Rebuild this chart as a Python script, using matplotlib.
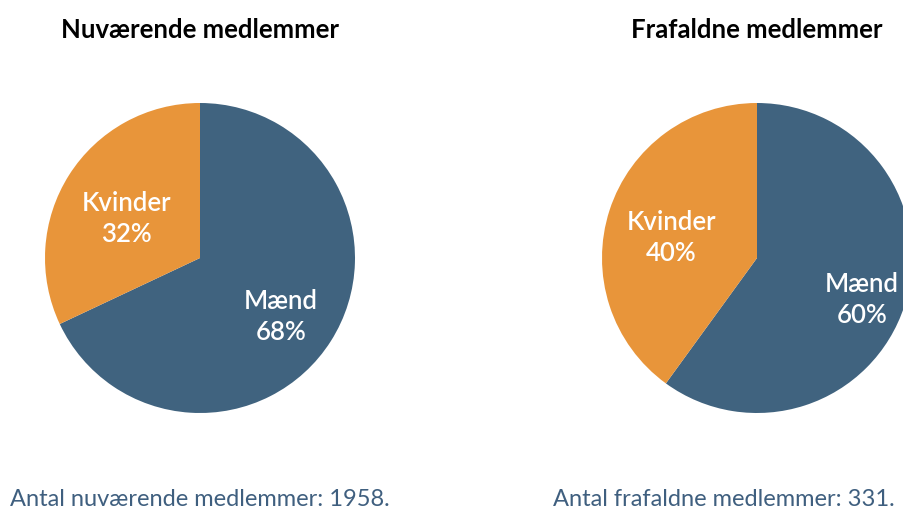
import numpy as np
import matplotlib
matplotlib.use('Agg')
import matplotlib.pyplot as plt

plt.rcParams['font.family'] = ['Lato', 'DejaVu Sans']

# data
categories = ['Mænd', 'Kvinder']
current_share = [68, 32]
dropped_share = [60, 40]
titles = ['Nuværende medlemmer', 'Frafaldne medlemmer']
captions = ['Antal nuværende medlemmer: 1958.', 'Antal frafaldne medlemmer: 331.']

colors = ['#40637f', '#e8953a']
caption_color = '#3f5f7f'

W, H = 904, 512
fig = plt.figure(figsize=(W / 100, H / 100), dpi=100)

# pie centres in pixels, radius 155
centres = [(200, 258), (757, 258)]
radius = 155
label_r = [[0.62, 0.56], [0.71, 0.58]]
label_dy = -0.05  # small downward nudge for the labels

for i, (shares, (cx, cy)) in enumerate(zip([current_share, dropped_share], centres)):
    ax = fig.add_axes([(cx - radius) / W, (H - cy - radius) / H,
                       2 * radius / W, 2 * radius / H])
    wedges, _ = ax.pie(shares, colors=colors, startangle=90, counterclock=False,
                       radius=1, wedgeprops=dict(linewidth=0))
    ax.set_xlim(-1, 1)
    ax.set_ylim(-1, 1)
    ax.set_aspect('equal')
    ax.axis('off')

    for j, w in enumerate(wedges):
        ang = np.deg2rad((w.theta1 + w.theta2) / 2)
        r = label_r[i][j]
        ax.text(r * np.cos(ang), r * np.sin(ang) + label_dy,
                f'{categories[j]}\n{shares[j]}%',
                ha='center', va='center', color='white', fontsize=18.5,
                fontweight='semibold', linespacing=1.3)

    fig.text(cx / W, 1 - 30 / H, titles[i], ha='center', va='center',
             fontsize=18.5, fontweight='bold', color='black')

fig.text(10 / W, 1 - 499 / H, captions[0], ha='left', va='center',
         fontsize=17, color=caption_color)
fig.text(553 / W, 1 - 499 / H, captions[1], ha='left', va='center',
         fontsize=17, color=caption_color)

fig.savefig('out.png', dpi=100)
